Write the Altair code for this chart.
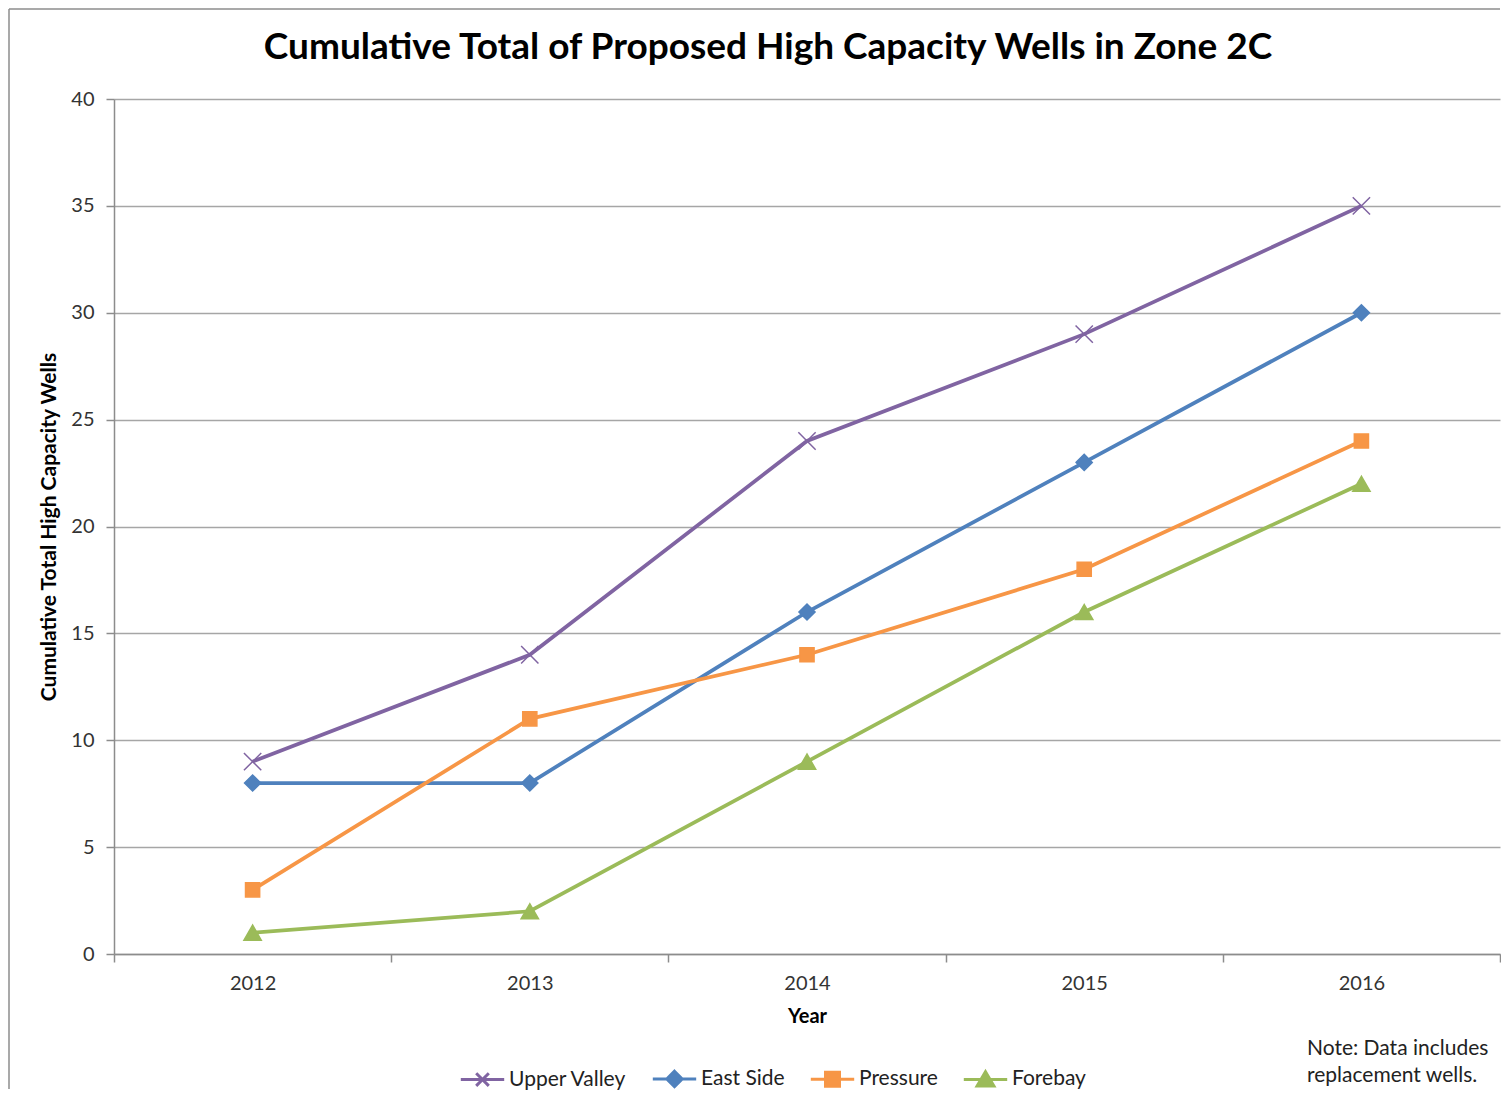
import altair as alt
import pandas as pd

# ---- data ----
years = [2012, 2013, 2014, 2015, 2016]
series_names = ["Upper Valley", "East Side", "Pressure", "Forebay"]
upper_valley = [9, 14, 24, 29, 35]
east_side = [8, 8, 16, 23, 30]
pressure = [3, 11, 14, 18, 24]
forebay = [1, 2, 9, 16, 22]
y_ticks = [0, 5, 10, 15, 20, 25, 30, 35, 40]
x_boundaries = [2011.5, 2012.5, 2013.5, 2014.5, 2015.5, 2016.5]
title_text = ["Cumulative Total of Proposed High Capacity Wells in Zone 2C"]
note_lines = ["Note: Data includes", "replacement wells."]

# ---- styles ----
colors = ["#8064A2", "#4F81BD", "#F79646", "#9BBB59"]
point_shapes = ["M-1,-1L1,1M1,-1L-1,1", "diamond", "square", "triangle-up"]
point_sizes = [300, 260, 200, 300]
legend_paths = [
    "M-3.1,0H3.1M-0.9,-0.9L0.9,0.9M0.9,-0.9L-0.9,0.9",
    "M-3.1,0H3.1M0,-1.1L1.1,0L0,1.1L-1.1,0Z",
    "M-3.1,0H3.1M-1,-1H1V1H-1Z",
    "M-3.1,0H3.1M0,-1.1L1.2,0.95H-1.2Z",
]
FONT = "Lato"
W, H = 1386, 855
band = W / 5

rows = []
for name, vals in zip(series_names, [upper_valley, east_side, pressure, forebay]):
    for yr, v in zip(years, vals):
        rows.append({"Year": yr, "Series": name, "Wells": v})
df = pd.DataFrame(rows)

x_enc = alt.X(
    "Year:Q",
    scale=alt.Scale(domain=[x_boundaries[0], x_boundaries[-1]], nice=False, zero=False),
    axis=alt.Axis(
        values=x_boundaries,
        labelExpr="datum.value > 2016 ? '' : toString(datum.value + 0.5)",
        labelOffset={"condition": {"test": "datum.value > 2016", "value": 0}, "value": band / 2},
        labelFlush=False,
        labelOverlap=False,
        grid=False,
        tickSize=8,
        labelPadding=11,
        title="Year",
        titlePadding=13,
    ),
)
y_enc = alt.Y(
    "Wells:Q",
    scale=alt.Scale(domain=[0, 40], nice=False),
    axis=alt.Axis(
        values=y_ticks,
        tickSize=8,
        labelPadding=12,
        grid=True,
        title="Cumulative Total High Capacity Wells",
        titlePadding=11,
        titleFontSize=21,
    ),
)

legend = alt.Legend(
    title=None,
    orient="none",
    legendX=358,
    legendY=969,
    direction="horizontal",
    labelFont=FONT,
    labelFontSize=21,
    labelColor="#222222",
    symbolSize=196,
    symbolStrokeWidth=3,
    symbolOpacity=1,
    labelOffset=16,
    columnPadding=19,
)

color_scale = alt.Scale(domain=series_names, range=colors)

base = alt.Chart(df)

lines = base.mark_line(strokeWidth=3.75).encode(
    x=x_enc,
    y=y_enc,
    color=alt.Color("Series:N", scale=color_scale, legend=legend),
)

# empty layer that only feeds the legend (line + marker symbols)
legend_layer = base.transform_filter("false").mark_point(filled=True).encode(
    x=x_enc,
    y=y_enc,
    color=alt.Color("Series:N", scale=color_scale, legend=legend),
    stroke=alt.Stroke("Series:N", scale=alt.Scale(domain=series_names, range=colors), legend=legend),
    shape=alt.Shape("Series:N", scale=alt.Scale(domain=series_names, range=legend_paths), legend=legend),
)

point_layers = []
for name, shp, sz, col in zip(series_names, point_shapes, point_sizes, colors):
    point_layers.append(
        base.transform_filter(alt.datum.Series == name)
        .mark_point(shape=shp, size=sz, filled=True, color=col, stroke=col, strokeWidth=1.5, opacity=1)
        .encode(x=x_enc, y=y_enc)
    )

one = pd.DataFrame({"k": [0]})
frame_left = alt.Chart(one).mark_rule(color="#8c8c8c", strokeWidth=1.5).encode(
    x=alt.value(-105), y=alt.value(-90), y2=alt.value(990)
)
frame_top = alt.Chart(one).mark_rule(color="#8c8c8c", strokeWidth=1.5).encode(
    x=alt.value(-105), x2=alt.value(W), y=alt.value(-90)
)

title_mark = alt.Chart(pd.DataFrame({"t": title_text})).mark_text(
    font=FONT, fontSize=37, fontWeight="bold", color="#000000", align="center", baseline="middle"
).encode(text="t:N", x=alt.value(654), y=alt.value(-51))

note_mark = alt.Chart(one).mark_text(
    font=FONT, fontSize=21, color="#222222", align="left", baseline="top", lineHeight=27
).encode(text=alt.value(note_lines), x=alt.value(1193), y=alt.value(939))

chart = (
    alt.layer(frame_left, frame_top, lines, *point_layers, legend_layer, title_mark, note_mark)
    .properties(width=W, height=H, padding=0, background="white")
    .configure_view(stroke=None)
    .configure_axis(
        labelFont=FONT,
        labelFontSize=20,
        labelColor="#333333",
        titleFont=FONT,
        titleFontSize=20,
        titleFontWeight="bold",
        titleColor="#000000",
        domainColor="#8c8c8c",
        domainWidth=1.5,
        tickColor="#8c8c8c",
        tickWidth=1.5,
        gridColor="#a6a6a6",
        gridWidth=1.3,
    )
)

chart.save("out.html", embed_options={"renderer": "svg", "actions": False})
